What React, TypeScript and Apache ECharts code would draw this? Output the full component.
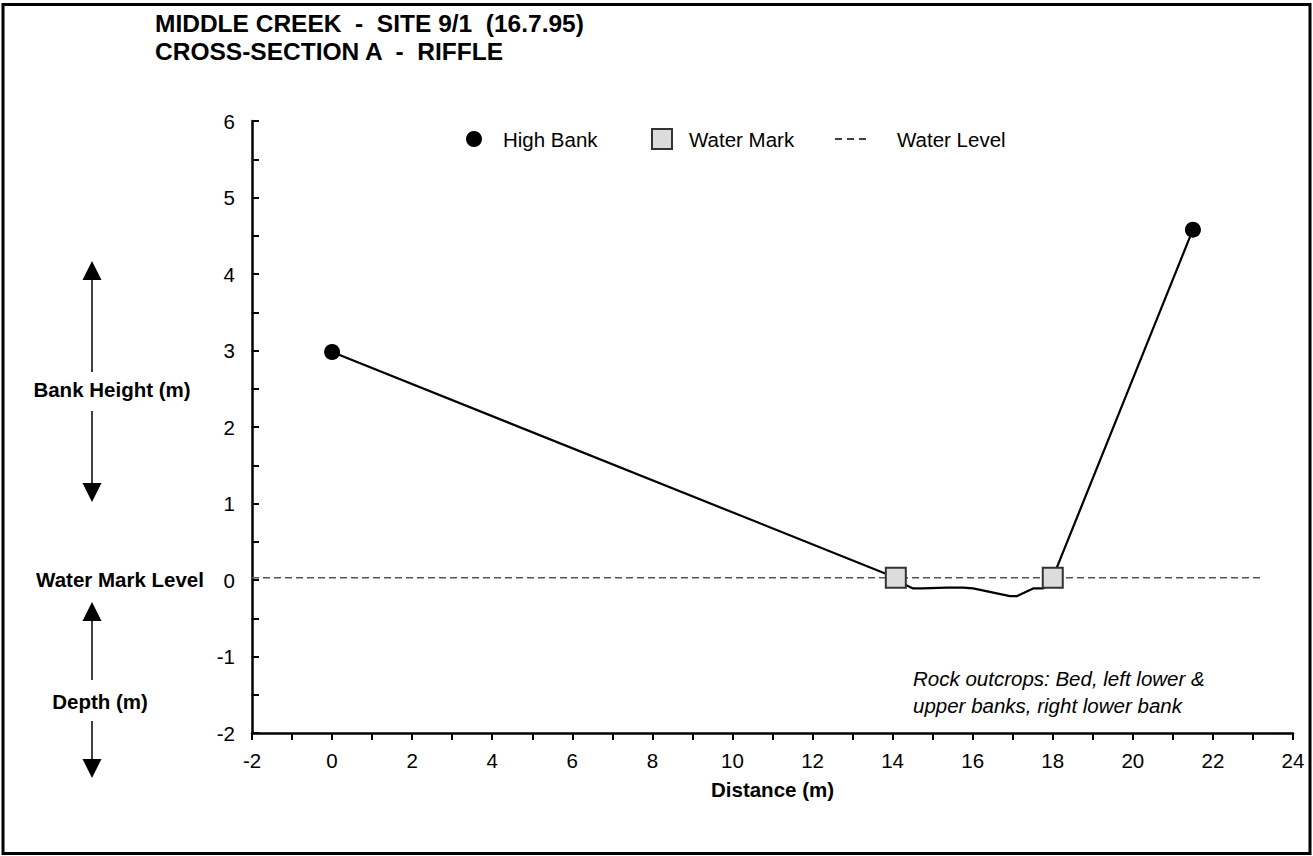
import React, { useEffect, useRef } from "react";
import * as echarts from "echarts";

// ---- Data ----
const TITLE_LINE_1 = "MIDDLE CREEK  -  SITE 9/1  (16.7.95)";
const TITLE_LINE_2 = "CROSS-SECTION A  -  RIFFLE";

const X_MIN = -2;
const X_MAX = 24;
const X_STEP = 2;
const Y_MIN = -2;
const Y_MAX = 6;
const Y_STEP = 1;

const X_NAME = "Distance (m)";

const highBankX = [0, 21.5];
const highBankY = [2.98, 4.58];

const waterMarkX = [14.08, 18.0];
const waterMarkY = [0.03, 0.03];

const profileX = [0, 14.08, 14.34, 14.51, 14.74, 15.36, 15.76, 16.01, 16.93, 17.11, 17.51, 17.76, 18.0, 21.5];
const profileY = [2.98, 0.03, -0.07, -0.11, -0.11, -0.1, -0.1, -0.11, -0.21, -0.21, -0.11, -0.11, 0.03, 4.58];

const waterLevelX = [-2, 23.2];
const waterLevelY = [0.03, 0.03];

const LEGEND_NAMES = ["High Bank", "Water Mark", "Water Level"];
const NOTE_LINES = ["Rock outcrops: Bed, left lower &", "upper banks, right lower bank"];
const SIDE_LABELS = ["Bank Height (m)", "Water Mark Level", "Depth (m)"];

const FONT = "'Liberation Sans', Arial, sans-serif";

const zip = (xs: number[], ys: number[]) => xs.map((x, i) => [x, ys[i]]);

function arrow(x: number, y1: number, y2: number, headLen: number, headHalf: number) {
  const dir = y2 > y1 ? 1 : -1;
  const base = y2 - dir * headLen;
  return [
    { type: "line", shape: { x1: x, y1, x2: x, y2: base }, style: { stroke: "#000", lineWidth: 1.5 } },
    {
      type: "polygon",
      shape: { points: [[x - headHalf, base], [x + headHalf, base], [x, y2]] },
      style: { fill: "#000" },
    },
  ];
}

function txt(
  x: number,
  y: number,
  text: string,
  opts: { size?: number; weight?: string; italic?: boolean; align?: string } = {}
) {
  return {
    type: "text",
    x,
    y,
    style: {
      text,
      fill: "#000",
      fontFamily: FONT,
      fontSize: opts.size ?? 20.5,
      fontWeight: opts.weight ?? "normal",
      fontStyle: opts.italic ? "italic" : "normal",
      align: opts.align ?? "left",
      verticalAlign: "middle",
    },
  };
}

export default function App() {
  const ref = useRef<HTMLDivElement>(null);

  useEffect(() => {
    if (!ref.current) return;
    const chart = echarts.init(ref.current, undefined, { renderer: "svg" });

    const graphic: any[] = [
      {
        type: "rect",
        shape: { x: 3, y: 4.5, width: 1307, height: 849 },
        style: { fill: "none", stroke: "#000", lineWidth: 3 },
        silent: true,
      },
      txt(155, 23, TITLE_LINE_1, { size: 24.5, weight: "bold" }),
      txt(155, 51, TITLE_LINE_2, { size: 24.5, weight: "bold" }),
      // legend
      { type: "circle", shape: { cx: 474, cy: 139, r: 8 }, style: { fill: "#000" } },
      txt(503, 139, LEGEND_NAMES[0]),
      {
        type: "rect",
        shape: { x: 652, y: 129, width: 20, height: 20 },
        style: { fill: "#dcdcdc", stroke: "#333", lineWidth: 2 },
      },
      txt(689, 139, LEGEND_NAMES[1]),
      {
        type: "line",
        shape: { x1: 835, y1: 139, x2: 867, y2: 139 },
        style: { stroke: "#000", lineWidth: 1.5, lineDash: [7, 5] },
      },
      txt(897, 139, LEGEND_NAMES[2]),
      // note
      txt(913, 678, NOTE_LINES[0], { italic: true }),
      txt(913, 705, NOTE_LINES[1], { italic: true }),
      // side labels
      txt(112, 389, SIDE_LABELS[0], { weight: "bold", align: "center" }),
      txt(120, 579, SIDE_LABELS[1], { weight: "bold", align: "center" }),
      txt(100, 701, SIDE_LABELS[2], { weight: "bold", align: "center" }),
      ...arrow(92, 372, 261, 19, 9.5),
      ...arrow(92, 411, 502, 19, 9.5),
      ...arrow(92, 680, 602, 19, 9.5),
      ...arrow(92, 721, 778, 19, 9.5),
    ];

    chart.setOption({
      animation: false,
      backgroundColor: "#fff",
      textStyle: { fontFamily: FONT },
      grid: { left: 252, top: 121, width: 1041, height: 612, containLabel: false },
      xAxis: {
        type: "value",
        min: X_MIN,
        max: X_MAX,
        interval: X_STEP,
        name: X_NAME,
        nameLocation: "middle",
        nameGap: 46,
        nameTextStyle: { fontFamily: FONT, fontSize: 20.5, fontWeight: "bold", color: "#000" },
        axisLine: { onZero: false, lineStyle: { color: "#000", width: 2.5 } },
        axisTick: { show: true, inside: false, length: 7, lineStyle: { color: "#000", width: 2 } },
        minorTick: { show: true, splitNumber: 2, length: 7, lineStyle: { color: "#000", width: 2 } },
        axisLabel: { fontFamily: FONT, fontSize: 20.5, color: "#000", margin: 17 },
        splitLine: { show: false },
        minorSplitLine: { show: false },
      },
      yAxis: {
        type: "value",
        min: Y_MIN,
        max: Y_MAX,
        interval: Y_STEP,
        axisLine: { show: true, onZero: false, lineStyle: { color: "#000", width: 2.5 } },
        axisTick: { show: true, inside: true, length: 7, lineStyle: { color: "#000", width: 2 } },
        minorTick: { show: true, splitNumber: 2, length: 7, lineStyle: { color: "#000", width: 2 } },
        axisLabel: { fontFamily: FONT, fontSize: 20.5, color: "#000", margin: 17 },
        splitLine: { show: false },
        minorSplitLine: { show: false },
      },
      series: [
        {
          name: LEGEND_NAMES[2],
          type: "line",
          data: zip(waterLevelX, waterLevelY),
          symbol: "none",
          lineStyle: { color: "#555", width: 1.5, type: [7, 4] },
          z: 1,
        },
        {
          name: "Cross-section",
          type: "line",
          data: zip(profileX, profileY),
          symbol: "none",
          lineStyle: { color: "#000", width: 2.2 },
          z: 2,
        },
        {
          name: LEGEND_NAMES[0],
          type: "scatter",
          data: zip(highBankX, highBankY),
          symbol: "circle",
          symbolSize: 16,
          itemStyle: { color: "#000", opacity: 1 },
          z: 3,
        },
        {
          name: LEGEND_NAMES[1],
          type: "scatter",
          data: zip(waterMarkX, waterMarkY),
          symbol: "rect",
          symbolSize: 20,
          itemStyle: { color: "#dcdcdc", borderColor: "#333", borderWidth: 2, opacity: 1 },
          z: 3,
        },
      ],
      graphic,
    });

    return () => chart.dispose();
  }, []);

  return (
    <div
      ref={ref}
      style={{ position: "fixed", left: 0, top: 0, width: 1313, height: 856, background: "#fff" }}
    />
  );
}
